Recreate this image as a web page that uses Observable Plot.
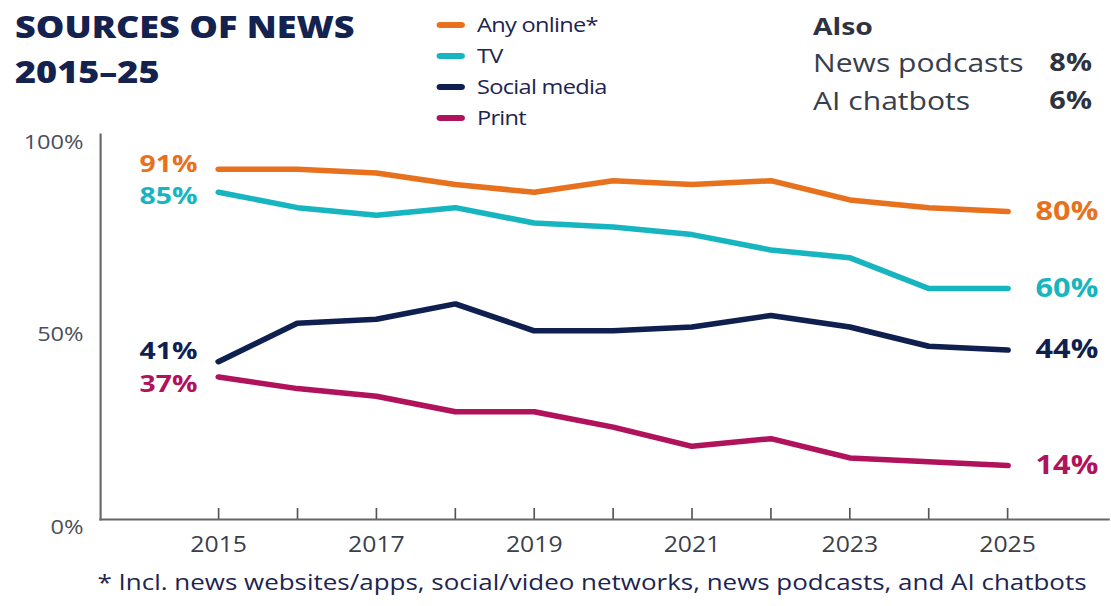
<!DOCTYPE html>
<html>
<head>
<meta charset="utf-8">
<script src="https://cdn.jsdelivr.net/npm/d3@7"></script>
<script src="https://cdn.jsdelivr.net/npm/@observablehq/plot@0.6"></script>
<style>
  html, body { margin: 0; padding: 0; background: #fff; overflow: hidden; }
  #outer { position: relative; width: 1111px; height: 606px; overflow: hidden; }
  /* the reference artwork is horizontally stretched; reproduce that with one scale */
  #wrap { position: absolute; left: 0; top: 0; width: 941.5px; height: 606px; transform: scaleX(1.18); transform-origin: 0 0; font-family: "Open Sans", sans-serif; }
  #chart { position: absolute; left: 0; top: 0; }
  .title { position: absolute; left: 12.7px; top: 4px; font-weight: 800; font-size: 30.5px; line-height: 45px; color: #13224f; white-space: nowrap; }
  .legend { position: absolute; left: 370.3px; top: 9px; font-size: 20px; letter-spacing: -0.6px; color: #1c2550; white-space: nowrap; }
  .legend .row { display: flex; align-items: center; height: 31px; }
  .legend .sw { width: 23.7px; height: 6px; border-radius: 3px; margin-right: 10.2px; }
  .also { position: absolute; left: 689px; top: 7.7px; width: 236.4px; color: #383e4c; white-space: nowrap; }
  .also .hd { font-weight: 700; font-size: 24px; line-height: 35px; color: #2e3340; }
  .also .row { display: flex; justify-content: space-between; font-size: 25.5px; line-height: 38px; }
  .also .row b { font-weight: 700; font-size: 24.5px; color: #2e3340; }
  .foot { position: absolute; left: 31px; width: 941.5px; top: 566px; text-align: center; font-size: 22px; line-height: 30px; color: #1c2550; white-space: nowrap; }
</style>
</head>
<body>
<div id="outer">
<div id="wrap">
  <div id="chart"></div>
  <div class="title">SOURCES OF NEWS<br>2015–25</div>
  <div class="legend" id="legend"></div>
  <div class="also" id="also"></div>
  <div class="foot">* Incl. news websites/apps, social/video networks, news podcasts, and AI chatbots</div>
</div>
</div>
<script>
const years = [2015, 2016, 2017, 2018, 2019, 2020, 2021, 2022, 2023, 2024, 2025];
const anyOnline = [91, 91, 90, 87, 85, 88, 87, 88, 83, 81, 80];
const tv        = [85, 81, 79, 81, 77, 76, 74, 70, 68, 60, 60];
const social    = [41, 51, 52, 56, 49, 49, 50, 53, 50, 45, 44];
const print     = [37, 34, 32, 28, 28, 24, 19, 21, 16, 15, 14];
const seriesNames = ["Any online", "TV", "Social media", "Print"];
const legendLabels = ["Any online*", "TV", "Social media", "Print"];
const seriesColors = ["#e8711e", "#17b5c0", "#0f1f4f", "#b0125c"];
const alsoLabels = ["News podcasts", "AI chatbots"];
const alsoValues = [8, 6];
const yTicks = [0, 50, 100];
const xLabelYears = [2015, 2017, 2019, 2021, 2023, 2025];

const seriesValues = [anyOnline, tv, social, print];
const data = [];
seriesNames.forEach((s, i) => years.forEach((y, j) => data.push({series: s, year: y, value: seriesValues[i][j]})));
const first = data.filter(d => d.year === years[0]);
const last = data.filter(d => d.year === years[years.length - 1]);
const labelDy = {"Any online": -5, "TV": 4, "Social media": -10, "Print": 7};

const chart = Plot.plot({
  width: 941.5,
  height: 606,
  marginLeft: 84.75,
  marginRight: 2.5,
  marginTop: 134,
  marginBottom: 87,
  style: {fontFamily: "Open Sans, sans-serif", background: "transparent", overflow: "visible"},
  x: {domain: [2013.504, 2026.28], axis: null},
  y: {domain: [0, 100], axis: null},
  color: {domain: seriesNames, range: seriesColors},
  marks: [
    Plot.axisY(yTicks, {tickSize: 0, tickPadding: 14.4, dy: 8, tickFormat: d => d + "%", fontSize: 20, fill: "#4a4f5c", label: null}),
    Plot.axisX(years, {tickSize: -11, tickFormat: () => "", stroke: "#555", strokeWidth: 1.4, label: null}),
    Plot.axisX(xLabelYears, {tickSize: 0, tickPadding: 18, tickFormat: d => String(d), fontSize: 21, fill: "#3a3f4a", fontWeight: 500, label: null}),
    Plot.frame({anchor: "left", stroke: "#666", strokeWidth: 1.8}),
    Plot.frame({anchor: "bottom", stroke: "#666", strokeWidth: 2}),
    Plot.line(data, {x: "year", y: "value", z: "series", stroke: "series", strokeWidth: 5.5, strokeLinejoin: "round", strokeLinecap: "round"}),
    ...seriesNames.map(s => Plot.text(first.filter(d => d.series === s), {x: "year", y: "value", text: d => d.value + "%", fill: "series", textAnchor: "end", dx: -18, dy: labelDy[s], fontSize: 24, fontWeight: 700})),
    Plot.text(last, {x: "year", y: "value", text: d => d.value + "%", fill: "series", textAnchor: "start", dx: 23.7, fontSize: 26, fontWeight: 700})
  ]
});
document.getElementById("chart").appendChild(chart);

const leg = document.getElementById("legend");
legendLabels.forEach((l, i) => {
  const row = document.createElement("div");
  row.className = "row";
  row.innerHTML = `<span class="sw" style="background:${seriesColors[i]}"></span><span>${l}</span>`;
  leg.appendChild(row);
});
const also = document.getElementById("also");
also.innerHTML = `<div class="hd">Also</div>` + alsoLabels.map((l, i) => `<div class="row"><span>${l}</span><b>${alsoValues[i]}%</b></div>`).join("");
</script>
</body>
</html>
